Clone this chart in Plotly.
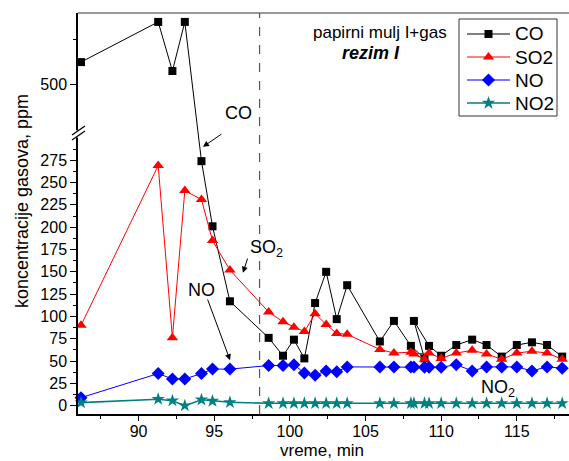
import plotly.graph_objects as go

# ---------------- data ----------------
time_min = [86.2, 91.3, 92.24, 93.06, 94.16, 94.89, 96.04, 98.6, 99.55, 100.27, 100.96,
            101.67, 102.4, 103.1, 103.79, 105.95, 106.88, 108.0, 108.9, 108.2, 109.2,
            110.0, 111.0, 112.05, 113.0, 114.0, 115.0, 116.0, 117.0, 118.0]
co = [525, 570, 515, 570, 274, 201, 117, 76, 56, 74, 53,
      115, 150, 97, 135, 72, 95, 67, 53, 95, 67,
      56, 68, 74, 68, 55, 68, 71, 68, 55]
so2 = [90, 269, 76, 241, 231, 185, 152, 105, 94, 88, 83,
       103, 91, 81, 80, 63, 59, 60, 52, 58, 59,
       53, 59, 62, 58, 52, 59, 61, 59, 52]
no = [9, 36, 30, 30, 36, 41, 41, 45, 45, 46, 36.5,
      34, 39, 38, 43.5, 43.5, 43.5, 43.5, 43, 43.5, 43,
      43, 46, 39, 43.5, 43.5, 43.5, 39, 43.5, 42]
no2 = [3.4, 7.3, 5.6, 0, 6.7, 5.3, 3.8, 2.7, 2.7, 2.7, 2.7,
       2.7, 2.7, 2.7, 2.7, 2.7, 2.7, 2.7, 2.7, 2.7, 2.7,
       2.7, 2.7, 2.7, 2.7, 2.7, 2.7, 2.7, 2.7, 2.7]

series_names = ["CO", "SO2", "NO", "NO2"]
lower_ticks = [0, 25, 50, 75, 100, 125, 150, 175, 200, 225, 250, 275]
upper_ticks = [500]
x_ticks = [90, 95, 100, 105, 110, 115]

# ---------------- broken-axis scale ----------------
LOW_TOP = 300.0      # top of lower segment (ppm)
UP_BOTTOM = 449.0    # bottom of upper segment (ppm)
GAP = 9.0            # gap in display units
OFFSET = UP_BOTTOM - (LOW_TOP + GAP)
Y_MIN, Y_MAX_PPM = -9.3, 580.0


def disp(v):
    return v if v <= LOW_TOP + GAP / 2 else v - OFFSET


def disp_list(vals):
    return [disp(v) for v in vals]


FONT = "Liberation Sans, Arial, sans-serif"

# plot-area pixel geometry
L, R, T, B = 78, 569, 13, 414
W, H = R - L, B - T


def px2paper(px, py):
    return (px - L) / float(W), (B - py) / float(H)


fig = go.Figure()
styles = [
    ("black", dict(symbol="square", size=8), 1),
    ("#ff0000", dict(symbol="triangle-up", size=10), 1),
    ("#0000ff", dict(symbol="diamond", size=10), 1),
    ("#008080", dict(symbol="star", size=10), 1.6),
]
for name, vals, (col, mk, lw) in zip(series_names, [co, so2, no, no2], styles):
    fig.add_trace(go.Scatter(
        x=time_min, y=disp_list(vals), name=name, mode="lines+markers",
        line=dict(color=col, width=lw),
        marker=dict(color=col, line=dict(width=0), **mk),
        cliponaxis=False, showlegend=False,
    ))

# ---- manual legend (samples drawn on an invisible pixel-space overlay axis) ----
LEG_BOX = (459, 557, 19, 116)
LEG_ROWS = [34, 57, 80, 103]
LEG_LINE = (467, 510)
leg_widths = [1, 1, 2, 1.6]
leg_line_colors = ["black", "#ff0000", "#7a7aff", "#008080"]
for (name, (col, mk, lw)), ry, lwl, lcol in zip(zip(series_names, styles), LEG_ROWS,
                                                 leg_widths, leg_line_colors):
    fig.add_trace(go.Scatter(
        x=[LEG_LINE[0], (LEG_LINE[0] + LEG_LINE[1]) / 2, LEG_LINE[1]], y=[ry, ry, ry],
        mode="lines", line=dict(color=lcol, width=lwl), xaxis="x2", yaxis="y2",
        showlegend=False, hoverinfo="skip"))
    fig.add_trace(go.Scatter(
        x=[(LEG_LINE[0] + LEG_LINE[1]) / 2], y=[ry], mode="markers",
        marker=dict(color=col, line=dict(width=0), **mk), xaxis="x2", yaxis="y2",
        showlegend=False, hoverinfo="skip"))

tickvals = lower_ticks + [disp(v) for v in upper_ticks]
ticktext = [str(v) for v in lower_ticks] + [str(v) for v in upper_ticks]
minor_vals = [v + 12.5 for v in lower_ticks] + [disp(550)]

x0, x1 = 86.0, 118.45

fig.update_layout(
    width=569, height=461,
    margin=dict(l=L, r=569 - R, t=T, b=461 - B),
    paper_bgcolor="white", plot_bgcolor="white",
    font=dict(family=FONT, color="black", size=16),
    showlegend=False,
    xaxis=dict(range=[x0, x1], showgrid=False, zeroline=False,
               showline=True, linecolor="black", linewidth=1.5,
               ticks="outside", ticklen=5, tickwidth=1.2, tickcolor="black",
               tickmode="array", tickvals=x_ticks,
               tickfont=dict(size=16),
               minor=dict(ticks="outside", ticklen=3, tickcolor="black", dtick=2.5, tick0=0)),
    yaxis=dict(range=[Y_MIN, Y_MAX_PPM - OFFSET], showgrid=False, zeroline=False,
               showline=True, linecolor="black", linewidth=1.5,
               ticks="outside", ticklen=6, tickwidth=1.2, tickcolor="black",
               tickmode="array", tickvals=tickvals, ticktext=ticktext,
               tickfont=dict(size=16),
               minor=dict(ticks="outside", ticklen=3, tickcolor="black",
                          tickmode="array", tickvals=minor_vals)),
    xaxis2=dict(overlaying="x", range=[L, R], visible=False, fixedrange=True),
    yaxis2=dict(overlaying="y", range=[B, T], visible=False, fixedrange=True),
)
try:
    fig.layout.xaxis.ticklabelstandoff = -3
except Exception:
    pass

shapes = []
# top frame line
shapes.append(dict(type="line", xref="paper", yref="paper", x0=0, x1=1, y0=1, y1=1,
                   line=dict(color="#333", width=1.2)))
# dashed vertical line at 98 min
shapes.append(dict(type="line", xref="x", yref="paper", x0=98, x1=98, y0=0, y1=1,
                   line=dict(color="#555", width=1.2, dash="dash")))
# axis break: white gap + "//"
shapes.append(dict(type="rect", xref="paper", yref="y", x0=-0.03, x1=0.012,
                   y0=LOW_TOP + 0.5, y1=LOW_TOP + GAP - 0.5,
                   fillcolor="white", line=dict(width=0), layer="above"))
for dy in (0, -5):
    a = px2paper(72, 140 + dy)
    b = px2paper(85, 131 + dy)
    shapes.append(dict(type="line", xref="paper", yref="paper",
                       x0=a[0], y0=a[1], x1=b[0], y1=b[1],
                       line=dict(color="black", width=1.3), layer="above"))
# legend box
a = px2paper(LEG_BOX[0], LEG_BOX[2])
b = px2paper(LEG_BOX[1], LEG_BOX[3])
shapes.append(dict(type="rect", xref="paper", yref="paper", x0=a[0], y0=a[1], x1=b[0], y1=b[1],
                   line=dict(color="#333", width=1), fillcolor="rgba(0,0,0,0)", layer="above"))
fig.update_layout(shapes=shapes)

ann = []
# legend texts
for name, ry in zip(series_names, LEG_ROWS):
    p = px2paper(LEG_LINE[1] + 3, ry)
    ann.append(dict(x=p[0], y=p[1], xref="paper", yref="paper", text=name, showarrow=False,
                    xanchor="left", yanchor="middle", font=dict(size=19)))
# curve labels
ann.append(dict(x=96.64, y=328, xref="x", yref="y", text="CO", showarrow=False,
                xanchor="center", yanchor="middle", font=dict(size=18)))
ann.append(dict(x=97.25, y=176, xref="x", yref="y", text="SO<sub>2</sub>", showarrow=False,
                xanchor="left", yanchor="middle", font=dict(size=18)))
ann.append(dict(x=94.18, y=130, xref="x", yref="y", text="NO", showarrow=False,
                xanchor="center", yanchor="middle", font=dict(size=18)))
ann.append(dict(x=112.5, y=19, xref="x", yref="y", text="NO<sub>2</sub>", showarrow=False,
                xanchor="left", yanchor="middle", font=dict(size=18)))
# arrows
for (hx, hy, tx, ty) in [(94.26, 290, 95.58, 305.5),
                         (96.9, 149, 97.24, 166.6),
                         (96.05, 51, 94.53, 120.7)]:
    ann.append(dict(x=hx, y=hy, ax=tx, ay=ty, xref="x", yref="y", axref="x", ayref="y",
                    text="", showarrow=True, arrowhead=2, arrowsize=1.2, arrowwidth=1,
                    arrowcolor="black", standoff=0))
# title texts
p = px2paper(379.5, 32)
ann.append(dict(x=p[0], y=p[1], xref="paper", yref="paper", text="papirni mulj I+gas",
                showarrow=False, xanchor="center", yanchor="middle", font=dict(size=17)))
p = px2paper(371, 53)
ann.append(dict(x=p[0], y=p[1], xref="paper", yref="paper", text="<b><i>rezim I</i></b>",
                showarrow=False, xanchor="center", yanchor="middle", font=dict(size=18)))
# axis titles
p = px2paper(22, 201)
ann.append(dict(x=p[0], y=p[1], xref="paper", yref="paper",
                text="koncentracije gasova, ppm", textangle=-90, showarrow=False,
                xanchor="center", yanchor="middle", font=dict(size=18)))
p = px2paper(322, 461)
ann.append(dict(x=p[0], y=p[1], xref="paper", yref="paper",
                text="vreme, min", showarrow=False, borderpad=0,
                xanchor="center", yanchor="bottom", font=dict(size=17)))
fig.update_layout(annotations=ann)

fig.write_html("out.html")
